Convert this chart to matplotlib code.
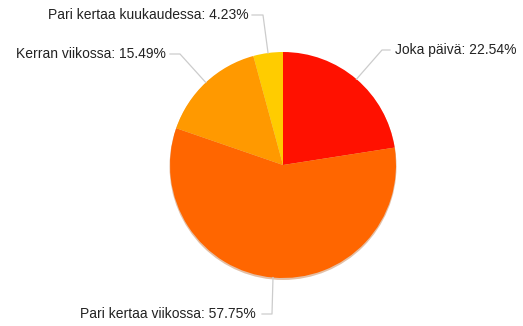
import numpy as np
import matplotlib.pyplot as plt

labels = ["Joka päivä", "Pari kertaa viikossa", "Kerran viikossa", "Pari kertaa kuukaudessa"]
shares = [22.54, 57.75, 15.49, 4.23]
colors = ["#ff1100", "#ff6600", "#ff9900", "#ffcc00"]

W, H = 523, 326
fig = plt.figure(figsize=(W / 100, H / 100), dpi=100)
ax = fig.add_axes([0, 0, 1, 1])

cx, cy, r = 283, H - 165, 113

# soft shadow under the pie
ax.add_patch(plt.Circle((cx, cy - 1.5), r + 0.5, color="#b04a00", alpha=0.35, lw=0, zorder=0))

wedges, _ = ax.pie(shares, colors=colors, startangle=90, counterclock=False,
                   radius=r, center=(cx, cy), frame=True,
                   wedgeprops=dict(linewidth=0))
ax.set_xlim(0, W)
ax.set_ylim(0, H)
ax.set_aspect("equal")
ax.axis("off")

# label layout: elbow point, end of horizontal leg, text anchor (pixels from top)
layout = [
    ((382, 50), (390, 50), (395, 50), "left"),
    ((272, 314), (262, 314), (256, 314), "right"),
    ((180, 54), (170, 54), (166, 54), "right"),
    ((263, 15), (252, 15), (249, 15), "right"),
]

for w, lab, val, (elb, hend, tpos, ha) in zip(wedges, labels, shares, layout):
    mid = np.deg2rad((w.theta1 + w.theta2) / 2)
    ex, ey = cx + r * np.cos(mid), cy + r * np.sin(mid)
    xs = [ex, elb[0], hend[0]]
    ys = [ey, H - elb[1], H - hend[1]]
    ax.plot(xs, ys, color="#cccccc", lw=0.9, zorder=1)
    ax.text(tpos[0], H - tpos[1], f"{lab}: {val:.2f}%", ha=ha, va="center",
            fontsize=10, family="Liberation Sans", color="#222222")

fig.savefig("out.png", dpi=100, facecolor="white")
